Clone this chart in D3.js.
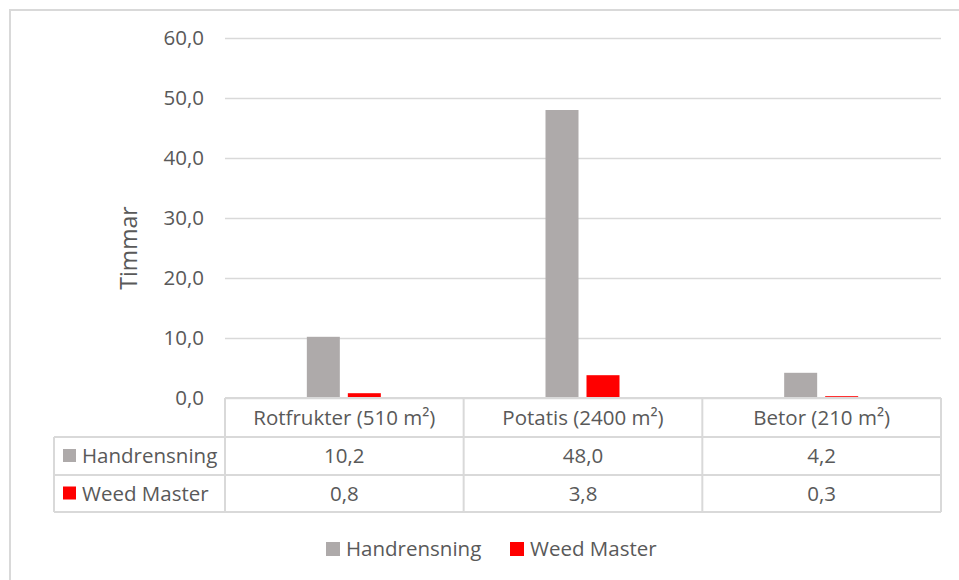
<!DOCTYPE html>
<html>
<head>
<meta charset="utf-8">
<script src="https://cdn.jsdelivr.net/npm/d3@7"></script>
<style>
  html, body { margin: 0; padding: 0; background: #fff; }
  svg { display: block; }
  text { font-family: "Open Sans", "Noto Sans", sans-serif; fill: #595959; }
</style>
</head>
<body>
<svg id="chart" width="959" height="580"></svg>
<script>
const categories = ["Rotfrukter (510 m²)", "Potatis (2400 m²)", "Betor (210 m²)"];
const seriesNames = ["Handrensning", "Weed Master"];
const handrensning = [10.2, 48.0, 4.2];
const weedMaster = [0.8, 3.8, 0.3];
const yTicks = [0, 10, 20, 30, 40, 50, 60];
const colors = ["#AEAAAA", "#FF0000"];
const yTitle = "Timmar";

(function () {
const seriesValues = [handrensning, weedMaster];
const fmt = v => v.toFixed(1).replace(".", ",");

const svg = d3.select("#chart");
const pLeft = 225, pRight = 941, pTop = 38, pBottom = 398;
const lineColor = "#d9d9d9";
const fs = 20.5;

// outer border (chart area)
svg.append("rect").attr("x", 10).attr("y", 10).attr("width", 1200).attr("height", 1200)
  .attr("fill", "none").attr("stroke", lineColor).attr("stroke-width", 2);

const y = d3.scaleLinear().domain([0, 60]).range([pBottom, pTop]);
const x0 = d3.scaleBand().domain(categories).range([pLeft, pRight]).padding(0);
const x1 = d3.scaleBand().domain(seriesNames)
  .range([x0.bandwidth() / 2 - 37.5, x0.bandwidth() / 2 + 36.5]).paddingInner(8 / 41).paddingOuter(0);

// y axis with gridlines
const yAxis = d3.axisLeft(y).tickValues(yTicks).tickSize(-(pRight - pLeft)).tickPadding(21).tickFormat(fmt);
const gy = svg.append("g").attr("transform", `translate(${pLeft},0)`).call(yAxis);
gy.select(".domain").remove();
gy.selectAll(".tick line").attr("stroke", lineColor).attr("stroke-width", 1.5);
gy.selectAll(".tick text").style("font-size", fs + "px").attr("fill", "#595959")
  .style("font-family", "'Open Sans', sans-serif");

// y title
svg.append("text").attr("transform", `translate(137,${(pTop + pBottom) / 2 + 30}) rotate(-90)`)
  .attr("text-anchor", "middle").style("font-size", "23px").text(yTitle);

// bars
const gBars = svg.append("g");
categories.forEach((c, i) => {
  seriesNames.forEach((s, j) => {
    const v = seriesValues[j][i];
    gBars.append("rect")
      .attr("x", x0(c) + x1(s))
      .attr("y", y(v))
      .attr("width", x1.bandwidth())
      .attr("height", y(0) - y(v))
      .attr("fill", colors[j]);
  });
});

// data table
const tableLeft = 54;
const rowY = [pBottom, 437, 475, 512];
const gT = svg.append("g").attr("stroke", lineColor).attr("stroke-width", 2).attr("fill", "none");
gT.append("line").attr("x1", pLeft).attr("x2", pRight).attr("y1", rowY[0]).attr("y2", rowY[0]);
[1, 2, 3].forEach(k => gT.append("line").attr("x1", tableLeft).attr("x2", pRight).attr("y1", rowY[k]).attr("y2", rowY[k]));
gT.append("line").attr("x1", tableLeft).attr("x2", tableLeft).attr("y1", rowY[1]).attr("y2", rowY[3]);
categories.forEach(c => gT.append("line").attr("x1", x0(c)).attr("x2", x0(c)).attr("y1", rowY[0]).attr("y2", rowY[3]));
gT.append("line").attr("x1", pRight).attr("x2", pRight).attr("y1", rowY[0]).attr("y2", rowY[3]);

const gTxt = svg.append("g").style("font-size", fs + "px");
categories.forEach(c => {
  gTxt.append("text").attr("x", x0(c) + x0.bandwidth() / 2).attr("y", (rowY[0] + rowY[1]) / 2)
    .attr("dy", "0.35em").attr("text-anchor", "middle").text(c);
});
seriesNames.forEach((s, j) => {
  const cy = (rowY[j + 1] + rowY[j + 2]) / 2;
  svg.append("rect").attr("x", 63).attr("y", cy - 7).attr("width", 13).attr("height", 13).attr("fill", colors[j]);
  gTxt.append("text").attr("x", 82).attr("y", cy).attr("dy", "0.35em").text(s);
  categories.forEach((c, i) => {
    gTxt.append("text").attr("x", x0(c) + x0.bandwidth() / 2).attr("y", cy)
      .attr("dy", "0.35em").attr("text-anchor", "middle").text(fmt(seriesValues[j][i]));
  });
});

// legend
const legendX = [326, 510];
const gL = svg.append("g").style("font-size", fs + "px");
seriesNames.forEach((s, j) => {
  gL.append("rect").attr("x", legendX[j]).attr("y", 542).attr("width", 14).attr("height", 14).attr("fill", colors[j]);
  gL.append("text").attr("x", legendX[j] + 20).attr("y", 549).attr("dy", "0.35em").text(s);
});
})();
</script>
</body>
</html>
